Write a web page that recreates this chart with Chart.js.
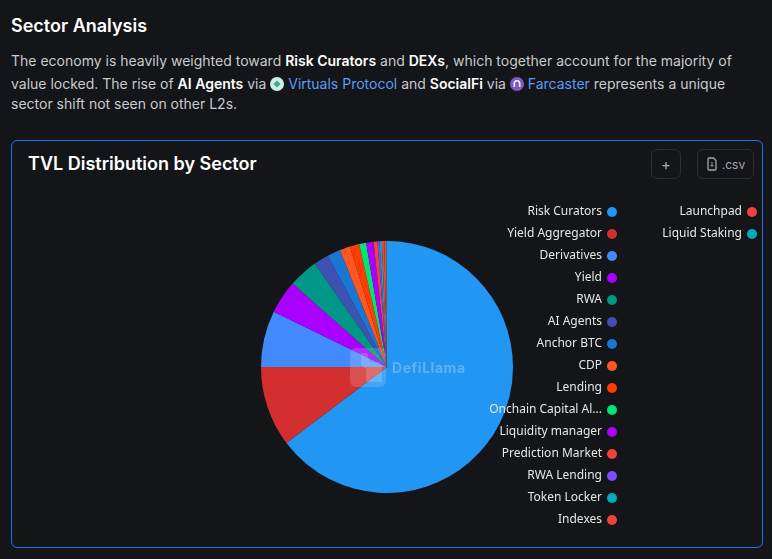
<!DOCTYPE html>
<html><head><meta charset="utf-8">
<script src="https://cdn.jsdelivr.net/npm/chart.js@4/dist/chart.umd.min.js"></script>
<style>
html,body{margin:0;padding:0;width:772px;height:559px;overflow:hidden;background:#141518;font-family:Inter,sans-serif;color:#e4e5e7}
.abs{position:absolute;white-space:nowrap}
h2{margin:0;left:11px;top:15px;font-size:18px;line-height:22px;font-weight:600;color:#fff}
.line{left:11px;font-size:14px;line-height:20px;color:#c9cacc}
.line b{font-weight:600;color:#fff}
.line a{color:#5c9cf5;text-decoration:none}
.ico{display:inline-block;width:14px;height:14px;border-radius:50%;vertical-align:-2px;position:relative}
.card{left:11px;top:140px;width:750px;height:406px;border:1px solid #2172e5;border-radius:6px;box-sizing:content-box}
h3{margin:0;left:28px;top:153px;font-size:18px;line-height:22px;font-weight:600;color:#fff}
.btn{border:1px solid #2c2e32;border-radius:6px;box-sizing:border-box;height:30px;top:149px;color:#a6a7a9;font-size:12px;display:flex;align-items:center;justify-content:center;gap:4px}
#wrap{position:absolute;left:12px;top:186px;width:750px;height:360px}
.wm{left:392px;top:359px;font-size:14px;line-height:18px;font-weight:700;color:rgba(255,255,255,.27);letter-spacing:.55px}
</style></head>
<body>
<h2 class="abs">Sector Analysis</h2>
<div class="abs line" style="top:51px">The economy is heavily weighted toward <b>Risk Curators</b> and <b>DEXs</b>, which together account for the majority of</div>
<div class="abs line" style="top:74px">value locked. The rise of <b>AI Agents</b> via <span class="ico" style="background:#cfeee2"><svg width="14" height="14" style="position:absolute;left:0;top:0"><path d="M7 3.5 10.5 7 7 10.5 3.5 7Z" fill="#3fa596"/></svg></span> <a>Virtuals Protocol</a> and <b>SocialFi</b> via <span class="ico" style="background:#7c5cc0"><svg width="14" height="14" style="position:absolute;left:0;top:0"><path d="M4.3 10V6.5a2.7 2.7 0 0 1 5.4 0V10" fill="none" stroke="#efeaff" stroke-width="1.6"/></svg></span> <a>Farcaster</a> represents a unique</div>
<div class="abs line" style="top:94px">sector shift not seen on other L2s.</div>
<div class="abs card"></div>
<h3 class="abs">TVL Distribution by Sector</h3>
<div class="abs btn" style="left:651px;width:30px;font-size:15px">+</div>
<div class="abs btn" style="left:697px;width:57px"><svg width="12" height="14" viewBox="0 0 12 14"><path d="M2.5 1h5L10 3.5V12a1 1 0 0 1-1 1H3a1 1 0 0 1-1-1V2a1 1 0 0 1 .5-1Z" fill="none" stroke="#a6a7a9" stroke-width="1.3"/><path d="M6 5v4M4.5 8 6 9.5 7.5 8" fill="none" stroke="#a6a7a9"/></svg>.csv</div>
<div id="wrap"><canvas id="c"></canvas></div>
<svg class="abs" style="left:349px;top:347px" width="38" height="41" viewBox="0 0 38 41">
<rect x="1" y="1" width="36" height="39" rx="6" fill="rgba(255,255,255,.16)"/>
<path d="M12 6h6l3 9h9l3 5v15H17V22l-5-4Z" fill="rgba(255,255,255,.16)"/>
</svg>
<div class="abs wm">DefiLlama</div>
<script>
const categories = ["Risk Curators","Yield Aggregator","Derivatives","Yield","RWA","AI Agents","Anchor BTC","CDP","Lending","Onchain Capital Al...","Liquidity manager","Prediction Market","RWA Lending","Token Locker","Indexes","Launchpad","Liquid Staking"];
const shareOfTvl = [64.7,10.3,7.2,4.3,3.8,1.9,1.7,1.33,1.2,0.9,0.95,0.5,0.25,0.3,0.3,0.25,0.1];
const sliceColors = ["#2196f3","#d32f2f","#448aff","#aa00ff","#009688","#3f51b5","#1976d2","#ff5722","#ff3d00","#00e676","#aa00ff","#f44336","#7c4dff","#00acc1","#f44336","#f44336","#00acc1"];

const sideLegend = {
  id:'sideLegend',
  afterDraw(chart){
    const {ctx} = chart;
    const rowsPerColumn = 15, rowGap = 22, columns = [{text:590,dot:600},{text:730,dot:740}], firstRow = 26;
    ctx.save();
    ctx.font = '12px "Noto Sans"';
    ctx.textAlign = 'right';
    ctx.textBaseline = 'middle';
    categories.forEach((label,i)=>{
      const col = columns[Math.floor(i/rowsPerColumn)];
      const y = firstRow + (i%rowsPerColumn)*rowGap;
      ctx.fillStyle = '#e6e6e6';
      ctx.fillText(label,col.text,y);
      ctx.fillStyle = sliceColors[i];
      ctx.beginPath();ctx.arc(col.dot,y,5,0,Math.PI*2);ctx.fill();
    });
    ctx.restore();
  }
};

new Chart(document.getElementById('c'),{
  type:'pie',
  data:{labels:categories,datasets:[{data:shareOfTvl,backgroundColor:sliceColors,borderWidth:0}]},
  options:{
    responsive:true,maintainAspectRatio:false,animation:false,
    layout:{padding:{top:55,bottom:53}},
    plugins:{legend:{display:false},tooltip:{enabled:false}}
  },
  plugins:[sideLegend]
});
</script>
</body></html>
